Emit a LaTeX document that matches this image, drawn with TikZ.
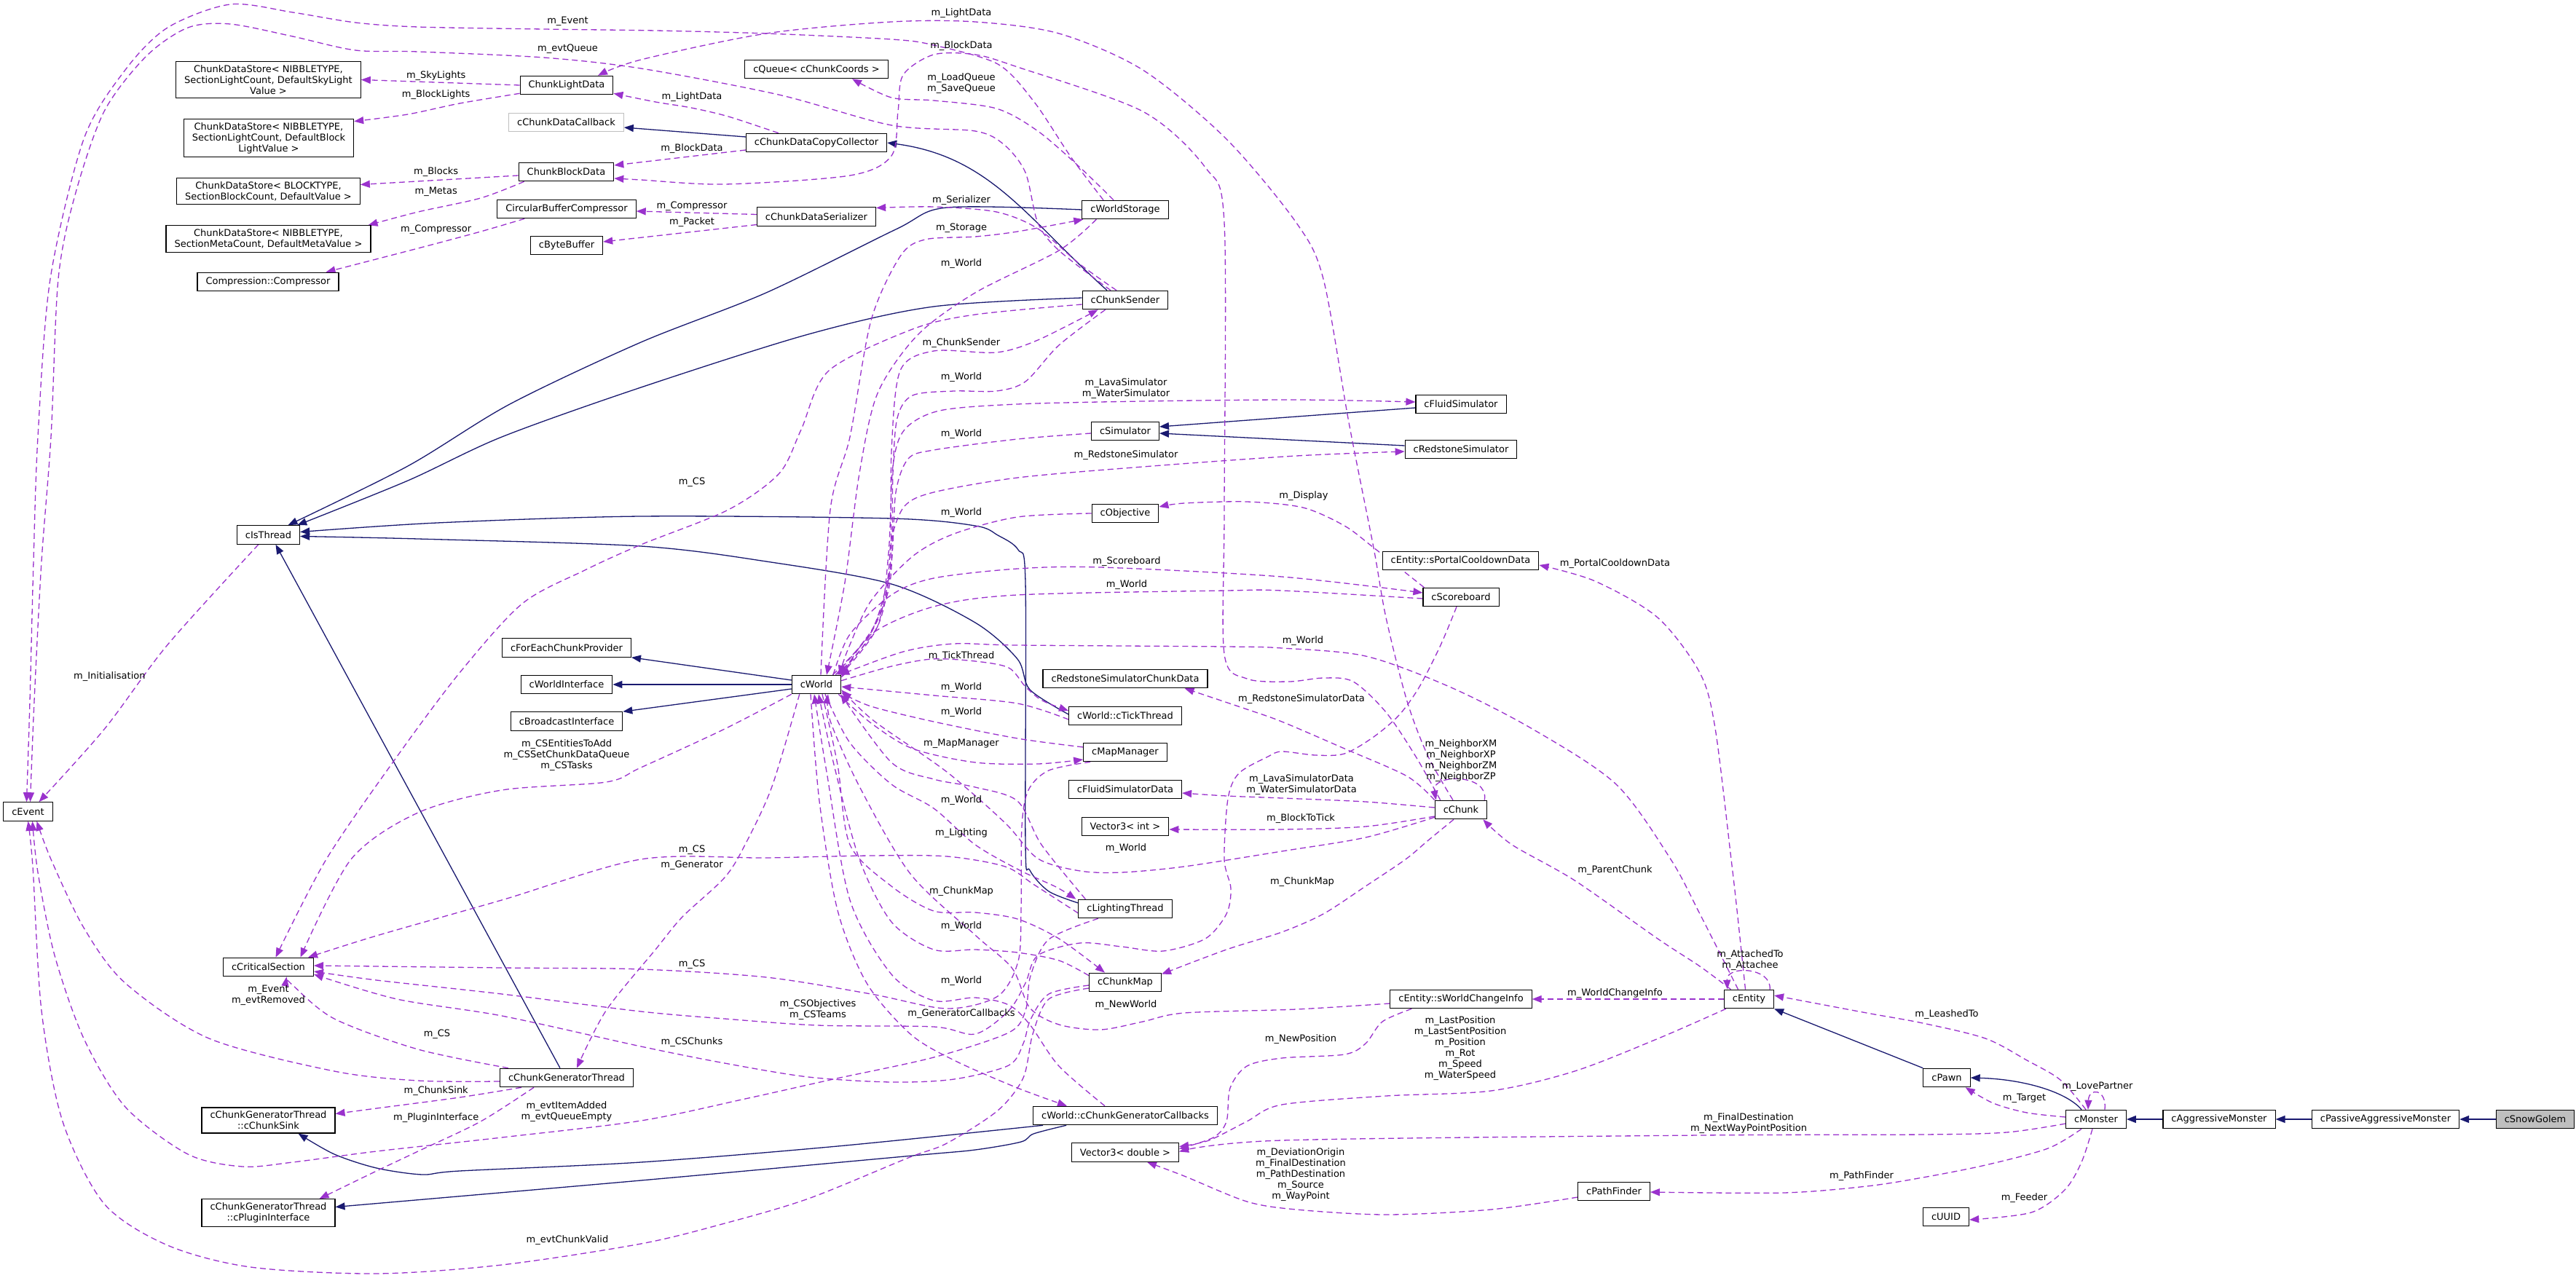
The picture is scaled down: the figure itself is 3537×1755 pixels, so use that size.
\documentclass[tikz,border=0pt]{standalone}
\usepackage{fontspec}
\setmainfont{DejaVu Sans}
\usetikzlibrary{arrows.meta,calc}
\definecolor{inhcol}{HTML}{191970}
\definecolor{usecol}{HTML}{9A32CD}
\definecolor{grayb}{HTML}{BFBFBF}
\pgfdeclarelayer{bglayer}
\pgfdeclarelayer{edgelayer}
\pgfsetlayers{bglayer,edgelayer,main}
\begin{document}
\begin{tikzpicture}[x=1pt,y=-1pt,
  box/.style={draw=black,line width=1.1pt,fill=white,inner xsep=11.5pt,inner ysep=5pt,minimum height=25.5pt,align=center,font=\fontsize{13}{15}\selectfont},
  lbl/.style={inner sep=0pt,align=center,font=\fontsize{13}{15}\selectfont},
  inh/.style={draw=inhcol,line width=1.3pt,-{Triangle[length=13pt,width=10pt]}},
  usg/.style={draw=usecol,line width=1.3pt,dash pattern=on 8pt off 5pt,-{Triangle[length=13pt,width=10pt]}}]
\begin{pgfonlayer}{bglayer}
\fill[white] (0,0) rectangle (3537,1755);
\end{pgfonlayer}
\useasboundingbox (0,0) rectangle (3537,1755);

% ---------------- nodes ----------------
\node[box] (sky) at (368.5,109.5) {ChunkDataStore< NIBBLETYPE,\\SectionLightCount, DefaultSkyLight\\Value >};
\node[box] (blight) at (369,189.5) {ChunkDataStore< NIBBLETYPE,\\SectionLightCount, DefaultBlock\\LightValue >};
\node[box] (cdsb) at (368.5,262.5) {ChunkDataStore< BLOCKTYPE,\\SectionBlockCount, DefaultValue >};
\node[box] (cdsm) at (368.5,328) {ChunkDataStore< NIBBLETYPE,\\SectionMetaCount, DefaultMetaValue >};
\node[box] (comp) at (368,387) {Compression::Compressor};
\node[box] (cld) at (778,117) {ChunkLightData};
\node[box,draw=grayb] (cdcb) at (777.5,168) {cChunkDataCallback};
\node[box] (cbd) at (777.5,236) {ChunkBlockData};
\node[box] (cbc) at (778,287) {CircularBufferCompressor};
\node[box] (cbb) at (778,337) {cByteBuffer};
\node[box] (queue) at (1121,95) {cQueue< cChunkCoords >};
\node[box] (cdcc) at (1121,196) {cChunkDataCopyCollector};
\node[box] (cdser) at (1121,297.5) {cChunkDataSerializer};
\node[box] (wstor) at (1545,288) {cWorldStorage};
\node[box] (csend) at (1545,412) {cChunkSender};
\node[box] (csim) at (1545,592) {cSimulator};
\node[box] (cfluid) at (2006,555) {cFluidSimulator};
\node[box] (credsim) at (2006,617) {cRedstoneSimulator};
\node[box] (isth) at (368.5,734.5) {cIsThread};
\node[box] (event) at (38.5,1114.5) {cEvent};
\node[box] (fecp) at (778,889.5) {cForEachChunkProvider};
\node[box] (wint) at (778,940) {cWorldInterface};
\node[box] (bint) at (778,990.5) {cBroadcastInterface};
\node[box] (world) at (1121,940) {cWorld};
\node[box] (obj) at (1545,705) {cObjective};
\node[box] (rscd) at (1545,932) {cRedstoneSimulatorChunkData};
\node[box] (tick) at (1545,983) {cWorld::cTickThread};
\node[box] (mapm) at (1545,1033) {cMapManager};
\node[box] (fsd) at (1545,1084) {cFluidSimulatorData};
\node[box] (v3i) at (1545,1135) {Vector3< int >};
\node[box] (spcd) at (2005.5,770) {cEntity::sPortalCooldownData};
\node[box] (score) at (2006,820) {cScoreboard};
\node[box] (chunk) at (2006,1112) {cChunk};
\node[box] (crit) at (368.5,1328) {cCriticalSection};
\node[box] (cgt) at (778,1480) {cChunkGeneratorThread};
\node[box] (sink) at (368.5,1538.5) {cChunkGeneratorThread\\::cChunkSink};
\node[box] (plug) at (368.5,1665.5) {cChunkGeneratorThread\\::cPluginInterface};
\node[box] (light) at (1545,1248) {cLightingThread};
\node[box] (cmap) at (1545,1349) {cChunkMap};
\node[box] (cgc) at (1545,1532) {cWorld::cChunkGeneratorCallbacks};
\node[box] (v3d) at (1545,1582.5) {Vector3< double >};
\node[box] (swci) at (2006,1372) {cEntity::sWorldChangeInfo};
\node[box] (entity) at (2401.5,1372) {cEntity};
\node[box] (pathf) at (2216,1636) {cPathFinder};
\node[box] (pawn) at (2673,1480) {cPawn};
\node[box] (uuid) at (2672,1671) {cUUID};
\node[box] (monster) at (2878,1537) {cMonster};
\node[box] (aggr) at (3047,1537) {cAggressiveMonster};
\node[box] (paggr) at (3275.5,1537) {cPassiveAggressiveMonster};
\node[box,fill=grayb] (golem) at (3481,1537) {cSnowGolem};

% ---------------- edges ----------------
\begin{pgfonlayer}{edgelayer}
% inheritance
\draw[inh] (golem.west) -- (paggr.east);
\draw[inh] (paggr.west) -- (aggr.east);
\draw[inh] (aggr.west) -- (monster.east);
\draw[inh] ($(monster.north)+(-20,0)$) .. controls (2838,1500) and (2780,1482) .. (pawn.east);
\draw[inh] (pawn.north west) -- (entity.south east);
\draw[inh] ($(world.west)+(0,-6)$) -- (fecp.south east);
\draw[inh] (world.west) -- (wint.east);
\draw[inh] ($(world.west)+(0,6)$) -- (bint.north east);
\draw[inh] ($(cfluid.west)+(0,5)$) -- ($(csim.east)+(0,-6)$);
\draw[inh] ($(credsim.west)+(0,-5)$) -- ($(csim.east)+(0,3)$);
\draw[inh] ($(cdcc.west)+(0,-8)$) -- ($(cdcb.east)+(0,7)$);
\draw[inh] ($(csend.north)+(-25,0)$) .. controls (1410,300) and (1360,215) .. (cdcc.east);
\draw[inh] plot[smooth,tension=0.5] coordinates {(wstor.west) (1300,285) (1230,315) (1052,402) (880,470) (700,555) (560,640) ($(isth.north)+(27,0)$)};
\draw[inh] plot[smooth,tension=0.5] coordinates {($(csend.west)+(0,-3)$) (1282,421) (1110,459) (880,532) (689,600) (560,660) ($(isth.north east)+(-4,0)$)};
\draw[inh] plot[smooth,tension=0.5] coordinates {($(tick.west)+(0,-2)$) (1414,947) (1397,905) (1339,855) (1224,802) (1052,771) (880,750) (574,740) ($(isth.east)+(0,2)$)};
\draw[inh] plot[smooth,tension=0.5] coordinates {($(light.west)+(0,-8)$) (1440,1224) (1414,1195) (1408,1160) (1408,800) (1398,755) (1370,735) (1339,722) (1224,712) (880,709) (600,718) ($(isth.east)+(0,-4)$)};
\draw[inh] ($(cgt.north)+(-9,0)$) -- ($(isth.south)+(10,0)$);
\draw[inh] plot[smooth,tension=0.5] coordinates {($(cgc.south west)+(14,0)$) (1150,1574) (880,1596) (631,1608) (580,1613) (517,1604) (459,1585) ($(sink.south)+(41,0)$)};
\draw[inh] plot[smooth,tension=0.5] coordinates {($(cgc.south west)+(46,0)$) (1419,1557) (1402,1568) (1339,1579) (1253,1587) (880,1621) ($(plug.east)+(0,-8)$)};

% usage
\draw[usg] plot[smooth,tension=0.5] coordinates {($(wstor.north)+(-30,0)$) (1470,215) (1420,140) (1370,88) (1282,62) (1224,54) (1052,46) (900,42) (746,40) (574,37) (488,31) (402,17) (316,6) (230,38) (172,96) (115,191) (69,383) (52,600) (46,771) (41,963) ($(event.north)+(-2,0)$)};
\draw[usg] plot[smooth,tension=0.5] coordinates {($(csend.north)+(-20,0)$) (1454,344) (1425,306) (1408,237) (1379,199) (1339,180) (1224,172) (1069,130) (880,94) (746,79) (574,71) (488,69) (402,50) (316,33) (258,38) (201,77) (143,153) (103,268) (80,383) (70,600) (57,771) (47,963) ($(event.north)+(3,0)$)};
\draw[usg] plot[smooth,tension=0.5] coordinates {($(isth.south west)+(30,0)$) (229.6,886) (143.5,1001) ($(event.north)+(15,0)$)};
\draw[usg] (cld.west) -- (sky.east);
\draw[usg] plot[smooth,tension=0.5] coordinates {($(cld.south west)+(0,-2)$) (631,142) (560,157) ($(blight.north east)+(0,4)$)};
\draw[usg] ($(cbd.west)+(0,5)$) -- ($(cdsb.east)+(0,-9)$);
\draw[usg] plot[smooth,tension=0.5] coordinates {($(cbd.south west)+(8,0)$) (660,272) (574,291) ($(cdsm.north east)+(-4,0)$)};
\draw[usg] plot[smooth,tension=0.5] coordinates {($(cbc.south west)+(38,0)$) (660,318) (574,341) ($(comp.north east)+(-18,0)$)};
\draw[usg] ($(cdser.west)+(0,-3)$) -- ($(cbc.east)+(0,3)$);
\draw[usg] ($(cdser.west)+(0,11)$) -- ($(cbb.east)+(0,-5)$);
\draw[usg] plot[smooth,tension=0.5] coordinates {($(cdcc.north west)+(45,0)$) (1000,160) (949,148) (900,140) ($(cld.south east)+(0,-2)$)};
\draw[usg] ($(cdcc.west)+(0,10)$) -- ($(cbd.east)+(0,-9)$);
\draw[usg] plot[smooth,tension=0.5] coordinates {($(chunk.north)+(-11,0)$) (1961,1039) (1932,963) (1903,848) (1886,752) (1852,580) (1817,383) (1780,306) (1684,191) (1569,96) (1454,46) (1339,30) (1224,30) (1052,46) (880,82) ($(cld.north)+(43,0)$)};
\draw[usg] plot[smooth,tension=0.5] coordinates {($(chunk.north west)+(8,0)$) (1944,1039) (1903,978) (1858,936) (1817,931) (1770,936) (1712,932) (1681,898) (1681,700) (1681,306) (1655,230) (1569,153) (1397,92) (1339,75) (1282,75) (1240,103) (1233,153) (1224,214) (1167,241) (995,253) (880,247) ($(cbd.east)+(0,9)$)};
\draw[usg] plot[smooth,tension=0.5] coordinates {($(wstor.north)+(-16,0)$) (1483,230) (1425,180) (1368,149) (1282,138) (1224,134) ($(queue.south)+(49,0)$)};
\draw[usg] plot[smooth,tension=0.5] coordinates {($(csend.north)+(-12,0)$) (1483,363) (1425,314) (1368,291) (1282,284) ($(cdser.east)+(0,-12)$)};
\draw[usg] plot[smooth,tension=0.5] coordinates {($(world.north)+(6,0)$) (1140,700) (1167,600) (1196,440) (1236,352) (1270,329) (1339,325) (1397,318) ($(wstor.south west)+(2,0)$)};
\draw[usg] plot[smooth,tension=0.5] coordinates {($(wstor.south west)+(20,0)$) (1454,344) (1339,402) (1260,460) (1205,540) (1180,650) (1160,800) ($(world.north)+(14,0)$)};
\draw[usg] plot[smooth,tension=0.5] coordinates {($(world.north east)+(-8,0)$) (1200,860) (1222,780) (1224,620) (1236,509) (1282,482) (1368,484) (1425,467) ($(csend.south west)+(22,0)$)};
\draw[usg] plot[smooth,tension=0.5] coordinates {($(csend.south west)+(32,0)$) (1454,474) (1408,524) (1368,537) (1310,537) (1253,543) (1232,574) (1226,650) (1222,800) (1190,880) ($(world.north east)+(-4,0)$)};
\draw[usg] plot[smooth,tension=0.5] coordinates {($(world.north east)+(-1,0)$) (1205,860) (1220,760) (1226,640) (1242,590) (1290,564) (1397,555) (1569,551) (1780,549) ($(cfluid.west)+(0,-3)$)};
\draw[usg] plot[smooth,tension=0.5] coordinates {($(world.north east)+(-12,0)$) (1195,870) (1218,800) (1224,740) (1242,695) (1282,676) (1397,656) (1569,641) (1780,626) ($(credsim.west)+(0,3)$)};
\draw[usg] plot[smooth,tension=0.5] coordinates {($(csim.west)+(0,3)$) (1397,603) (1282,618) (1247,630) (1230,676) (1224,771) (1205,860) ($(world.north east)+(-6,0)$)};
\draw[usg] plot[smooth,tension=0.5] coordinates {(obj.west) (1397,710) (1310,733) (1253,764) (1196,825) (1165,890) ($(world.north east)+(-3,0)$)};
\draw[usg] plot[smooth,tension=0.5] coordinates {($(score.north west)+(2,0)$) (1886,752) (1846,722) (1789,697) (1712,689) (1626,691) ($(obj.east)+(0,-9)$)};
\draw[usg] plot[smooth,tension=0.5] coordinates {($(world.north)+(23,0)$) (1167,871) (1224,817) (1282,794) (1397,781) (1511,779) (1760,792) ($(score.west)+(0,-6)$)};
\draw[usg] plot[smooth,tension=0.5] coordinates {($(score.west)+(0,2)$) (1760,811) (1684,811) (1397,817) (1282,833) (1196,871) ($(world.north east)+(0,4)$)};
\draw[usg] plot[smooth,tension=0.5] coordinates {($(entity.north)+(-15,0)$) (2334,1255) (2294,1180) (2219,1077) (2104,1001) (1990,943) (1875,901) (1760,890) (1684,888) (1397,886) (1310,884) (1240,895) ($(world.north east)+(-2,0)$)};
\draw[usg] plot[smooth,tension=0.5] coordinates {($(world.north east)+(0,8)$) (1224,915) (1280,905) (1339,908) (1385,917) (1408,943) (1431,962) ($(tick.west)+(0,-7)$)};
\draw[usg] plot[smooth,tension=0.5] coordinates {($(tick.west)+(0,5)$) (1397,966) (1282,955) ($(world.east)+(0,3)$)};
\draw[usg] plot[smooth,tension=0.5] coordinates {($(mapm.west)+(0,-7)$) (1397,1014) (1282,991) (1196,970) ($(world.south east)+(0,-2)$)};
\draw[usg] plot[smooth,tension=0.5] coordinates {($(world.south east)+(-4,0)$) (1196,993) (1253,1028) (1339,1047) (1425,1049) ($(mapm.west)+(0,10)$)};
\draw[usg] plot[smooth,tension=0.5] coordinates {($(world.south)+(12,0)$) (1167,1020) (1224,1077) (1282,1110) (1339,1160) (1400,1195) (1450,1218) ($(light.north west)+(-3,0)$)};
\draw[usg] plot[smooth,tension=0.5] coordinates {($(light.north west)+(10,0)$) (1430,1160) (1397,1100) (1339,1081) (1282,1070) (1224,1047) ($(world.south east)+(-1,0)$)};
\draw[usg] plot[smooth,tension=0.5] coordinates {($(world.south)+(8,0)$) (1150,1050) (1167,1160) (1224,1217) (1282,1251) (1339,1253) (1397,1262) (1454,1289) ($(cmap.north)+(-28,0)$)};
\draw[usg] plot[smooth,tension=0.5] coordinates {($(cmap.north west)+(0,4)$) (1454,1319) (1397,1308) (1339,1304) (1282,1304) (1224,1266) (1180,1180) (1145,1050) ($(world.south)+(3,0)$)};
\draw[usg] plot[smooth,tension=0.5] coordinates {($(cgc.north)+(-28,0)$) (1454,1464) (1414,1407) (1385,1380) (1339,1370) (1282,1374) (1224,1338) (1167,1236) (1135,1060) ($(world.south)+(-3,0)$)};
\draw[usg] plot[smooth,tension=0.5] coordinates {($(world.south)+(-8,0)$) (1125,1100) (1150,1250) (1190,1350) (1250,1420) (1310,1456) (1397,1494) ($(cgc.north)+(-80,0)$)};
\draw[usg] plot[smooth,tension=0.5] coordinates {($(world.south west)+(11,0)$) (1060,1080) (1023,1160) (995,1205) (937,1259) (900,1304) (832,1388) ($(cgt.north)+(14,0)$)};
\draw[usg] plot[smooth,tension=0.5] coordinates {(world.south west) (995,1001) (880,1054) (832,1074) (689,1085) (574,1116) (482,1180) ($(crit.north)+(44,0)$)};
\draw[usg] plot[smooth,tension=0.5] coordinates {($(csend.west)+(0,6)$) (1339,432) (1253,452) (1138,509) (1100,590) (1070,650) (1000,700) (880,748) (803,783) (717,829) (631,924) (545,1039) (448,1180) ($(crit.north)+(10,0)$)};
\draw[usg] plot[smooth,tension=0.5] coordinates {($(light.west)+(0,6)$) (1420,1215) (1380,1190) (1300,1176) (1196,1175) (1052,1178) (880,1180) (689,1236) (517,1285) ($(crit.north east)+(-8,0)$)};
\draw[usg] plot[smooth,tension=0.5] coordinates {($(mapm.south west)+(10,0)$) (1440,1058) (1412,1085) (1403,1135) (1402,1250) (1398,1320) (1370,1368) (1300,1385) (1196,1365) (1052,1342) (880,1331) (689,1329) ($(crit.east)+(0,-2)$)};
\draw[usg] plot[smooth,tension=0.5] coordinates {($(cmap.west)+(0,4)$) (1440,1365) (1415,1400) (1405,1433) (1385,1463) (1310,1482) (1224,1486) (1110,1479) (995,1460) (880,1437) (689,1395) (545,1372) ($(crit.east)+(0,10)$)};
\draw[usg] plot[smooth,tension=0.5] coordinates {($(score.south)+(-6,0)$) (1978,886) (1949,943) (1921,982) (1886,1012) (1846,1035) (1806,1037) (1760,1032) (1741,1039) (1701,1062) (1686,1097) (1681,1180) (1690,1220) (1684,1255) (1655,1289) (1597,1306) (1540,1300) (1483,1295) (1425,1312) (1408,1350) (1385,1388) (1339,1420) (1282,1410) (1123,1408) (995,1399) (880,1389) (689,1365) (517,1346) ($(crit.east)+(0,6)$)};
\draw[usg] plot[smooth,tension=0.5] coordinates {($(cgt.north west)+(12,0)$) (574,1441) (459,1399) (402,1353) ($(crit.south)+(25,0)$)};
\draw[usg] plot[smooth,tension=0.5] coordinates {($(cgt.west)+(0,5)$) (574,1484) (459,1471) (287,1426) (172,1350) (115,1274) (70,1180) ($(event.south)+(12,0)$)};
\draw[usg] plot[smooth,tension=0.5] coordinates {($(light.south)+(-37,0)$) (1440,1290) (1415,1340) (1408,1388) (1385,1418) (1282,1452) (1144,1482) (1023,1509) (880,1539) (689,1562) (517,1581) (402,1596) (333,1602) (258,1585) (172,1520) (115,1426) (75,1312) (52,1198) ($(event.south)+(6,0)$)};
\draw[usg] plot[smooth,tension=0.5] coordinates {($(cmap.west)+(0,8)$) (1440,1372) (1418,1420) (1405,1480) (1370,1525) (1300,1570) (1247,1590) (1110,1646) (995,1680) (880,1708) (689,1737) (517,1749) (344,1740) (230,1710) (143,1653) (86,1540) (57,1388) (45,1190) (event.south)};
\draw[usg] plot[smooth,tension=0.5] coordinates {(chunk.north west) (1932,1066) (1846,1028) (1760,991) (1712,974) ($(rscd.south east)+(-32,0)$)};
\draw[usg] plot[smooth,tension=0.5] coordinates {($(chunk.west)+(0,-3)$) (1875,1101) (1760,1096) (1684,1093) ($(fsd.east)+(0,5)$)};
\draw[usg] plot[smooth,tension=0.5] coordinates {($(chunk.west)+(0,9)$) (1875,1135) (1760,1139) ($(v3i.east)+(0,4)$)};
\draw[usg] plot[smooth,tension=0.5] coordinates {($(chunk.south west)+(0,-3)$) (1875,1150) (1760,1169) (1626,1190) (1540,1198) (1483,1196) (1425,1179) (1380,1130) (1300,1060) (1200,990) ($(world.south east)+(0,-6)$)};
\draw[usg] plot[smooth,tension=0.5] coordinates {($(chunk.south)+(-10,0)$) (1961,1154) (1930,1180) (1875,1217) (1817,1255) (1760,1280) (1684,1304) ($(cmap.north east)+(0,2)$)};
\draw[usg] ($(chunk.north east)+(-4,0)$) .. controls (2045,1062) and (1965,1062) .. ($(chunk.north west)+(2,0)$);
\draw[usg] plot[smooth,tension=0.5] coordinates {($(entity.north)+(-25,0)$) (2334,1327) (2276,1289) (2162,1209) (2076,1160) ($(chunk.south east)+(-6,0)$)};
\draw[usg] plot[smooth,tension=0.5] coordinates {($(entity.north)+(-5,0)$) (2385,1250) (2377,1180) (2355,1000) (2334,924) (2276,848) (2190,798) ($(spcd.east)+(0,6)$)};
\draw[usg] ($(entity.north east)+(-6,0)$) .. controls (2433,1328) and (2370,1325) .. ($(entity.north west)+(5,0)$);
\draw[usg] (entity.west) -- (swci.east);
\draw[usg] plot[smooth,tension=0.5] coordinates {($(entity.south west)+(3,0)$) (2277,1426) (2162,1471) (2047,1498) (1903,1505) (1760,1517) (1712,1540) (1660,1566) ($(v3d.east)+(0,-8)$)};
\draw[usg] plot[smooth,tension=0.5] coordinates {($(swci.south west)+(30,0)$) (1898,1403) (1875,1433) (1846,1448) (1760,1453) (1712,1464) (1689,1494) (1684,1540) (1666,1562) ($(v3d.east)+(0,-5)$)};
\draw[usg] plot[smooth,tension=0.5] coordinates {($(monster.west)+(0,6)$) (2755,1555) (2640,1558) (2334,1559) (1760,1566) ($(v3d.east)+(0,-1)$)};
\draw[usg] plot[smooth,tension=0.5] coordinates {($(pathf.west)+(0,8)$) (2047,1661) (1903,1668) (1780,1661) (1712,1650) (1626,1615) ($(v3d.south)+(30,0)$)};
\draw[usg] plot[smooth,tension=0.5] coordinates {($(monster.south)+(-20,0)$) (2812,1577) (2726,1600) (2640,1617) (2563,1629) (2449,1638) ($(pathf.east)+(0,1)$)};
\draw[usg] plot[smooth,tension=0.5] coordinates {($(monster.south)+(-5,0)$) (2858,1596) (2835,1634) (2789,1665) ($(uuid.east)+(0,4)$)};
\draw[usg] plot[smooth,tension=0.5] coordinates {($(monster.west)+(0,-3)$) (2783,1528) (2737,1515) ($(pawn.south east)+(-7,0)$)};
\draw[usg] ($(monster.north)+(12,0)$) .. controls (2893,1495) and (2868,1493) .. ($(monster.north)+(-11,0)$);
\draw[usg] plot[smooth,tension=0.5] coordinates {($(monster.north)+(-14,0)$) (2829,1483) (2783,1456) (2726,1426) (2640,1405) (2563,1391) ($(entity.east)+(0,-5)$)};
\draw[usg] plot[smooth,tension=0.5] coordinates {($(cgt.south west)+(30,0)$) (631,1507) (517,1522) ($(sink.east)+(0,-9)$)};
\draw[usg] plot[smooth,tension=0.5] coordinates {($(cgt.south west)+(47,0)$) (660,1540) (574,1581) (517,1608) ($(plug.north east)+(-22,0)$)};
\draw[usg] plot[smooth,tension=0.5] coordinates {($(swci.west)+(0,6)$) (1780,1386) (1626,1391) (1569,1403) (1511,1414) (1454,1407) (1414,1384) (1390,1330) (1340,1285) (1250,1200) (1180,1080) (1140,990) ($(world.south)+(16,0)$)};
\end{pgfonlayer}

% ---------------- labels ----------------
\node[lbl] (t1) at (779.5,29) {m\_Event};
\node[lbl] (t2) at (779.5,67) {m\_evtQueue};
\node[lbl] (t3) at (598.7,104.5) {m\_SkyLights};
\node[lbl] (t4) at (598.7,130.5) {m\_BlockLights};
\node[lbl] (t5) at (598.7,235.7) {m\_Blocks};
\node[lbl] (t6) at (598.7,263.7) {m\_Metas};
\node[lbl] (t7) at (598.7,315) {m\_Compressor};
\node[lbl] (t8) at (1320,18.4) {m\_LightData};
\node[lbl] (t9) at (1320,63) {m\_BlockData};
\node[lbl] (t10) at (1320,115) {m\_LoadQueue\\m\_SaveQueue};
\node[lbl] (t11) at (950,133) {m\_LightData};
\node[lbl] (t12) at (950,203.6) {m\_BlockData};
\node[lbl] (t13) at (950,282.8) {m\_Compressor};
\node[lbl] (t14) at (950,304.6) {m\_Packet};
\node[lbl] (t15) at (1320,275.5) {m\_Serializer};
\node[lbl] (t16) at (1320,313) {m\_Storage};
\node[lbl] (t17) at (1320,361.6) {m\_World};
\node[lbl] (t18) at (1320,470.7) {m\_ChunkSender};
\node[lbl] (t19) at (1320,518.5) {m\_World};
\node[lbl] (t20) at (1546,533.6) {m\_LavaSimulator\\m\_WaterSimulator};
\node[lbl] (t21) at (1320,596) {m\_World};
\node[lbl] (t22) at (1546,624.8) {m\_RedstoneSimulator};
\node[lbl] (t23) at (1320,704.4) {m\_World};
\node[lbl] (t24) at (1790,680.6) {m\_Display};
\node[lbl] (t25) at (1547,771) {m\_Scoreboard};
\node[lbl] (t26) at (1547,803) {m\_World};
\node[lbl] (t27) at (1789,880.4) {m\_World};
\node[lbl] (t28) at (1320,900.7) {m\_TickThread};
\node[lbl] (t29) at (1320,944.3) {m\_World};
\node[lbl] (t30) at (1320,978) {m\_World};
\node[lbl] (t31) at (1320,1020.8) {m\_MapManager};
\node[lbl] (t32) at (1787,960) {m\_RedstoneSimulatorData};
\node[lbl] (t33) at (1787,1078) {m\_LavaSimulatorData\\m\_WaterSimulatorData};
\node[lbl] (t34) at (1786,1124) {m\_BlockToTick};
\node[lbl] (t35) at (1320,1099) {m\_World};
\node[lbl] (t36) at (1320,1144.5) {m\_Lighting};
\node[lbl] (t37) at (950,1167.4) {m\_CS};
\node[lbl] (t38) at (1546,1165.5) {m\_World};
\node[lbl] (t39) at (2217.5,774.4) {m\_PortalCooldownData};
\node[lbl] (t40) at (2006,1045) {m\_NeighborXM\\m\_NeighborXP\\m\_NeighborZM\\m\_NeighborZP};
\node[lbl] (t41) at (368.5,1367) {m\_Event\\m\_evtRemoved};
\node[lbl] (t42) at (600,1420) {m\_CS};
\node[lbl] (t43) at (598.7,1498.5) {m\_ChunkSink};
\node[lbl] (t44) at (598.7,1535) {m\_PluginInterface};
\node[lbl] (t45) at (778,1527) {m\_evtItemAdded\\m\_evtQueueEmpty};
\node[lbl] (t46) at (779,1703.5) {m\_evtChunkValid};
\node[lbl] (t47) at (950,1188.5) {m\_Generator};
\node[lbl] (t48) at (1320,1223.8) {m\_ChunkMap};
\node[lbl] (t49) at (1320,1271.6) {m\_World};
\node[lbl] (t50) at (950,1324) {m\_CS};
\node[lbl] (t51) at (1320,1347) {m\_World};
\node[lbl] (t52) at (1123,1387) {m\_CSObjectives\\m\_CSTeams};
\node[lbl] (t53) at (1320,1392) {m\_GeneratorCallbacks};
\node[lbl] (t54) at (950,1431.3) {m\_CSChunks};
\node[lbl] (t55) at (1546,1380) {m\_NewWorld};
\node[lbl] (t56) at (2217.5,1195.3) {m\_ParentChunk};
\node[lbl] (t57) at (1788,1211) {m\_ChunkMap};
\node[lbl] (t58) at (2403,1319) {m\_AttachedTo\\m\_Attachee};
\node[lbl] (t59) at (2217.5,1363.8) {m\_WorldChangeInfo};
\node[lbl] (t60) at (1786,1427) {m\_NewPosition};
\node[lbl] (t61) at (2005,1440) {m\_LastPosition\\m\_LastSentPosition\\m\_Position\\m\_Rot\\m\_Speed\\m\_WaterSpeed};
\node[lbl] (t62) at (2401,1543) {m\_FinalDestination\\m\_NextWayPointPosition};
\node[lbl] (t63) at (2556,1615.4) {m\_PathFinder};
\node[lbl] (t64) at (1786,1613) {m\_DeviationOrigin\\m\_FinalDestination\\m\_PathDestination\\m\_Source\\m\_WayPoint};
\node[lbl] (t65) at (2673,1393) {m\_LeashedTo};
\node[lbl] (t66) at (2880,1492) {m\_LovePartner};
\node[lbl] (t67) at (2779.5,1508) {m\_Target};
\node[lbl] (t68) at (2779.5,1645) {m\_Feeder};
\node[lbl] (t69) at (150.4,929) {m\_Initialisation};
\node[lbl] (t70) at (778,1037) {m\_CSEntitiesToAdd\\m\_CSSetChunkDataQueue\\m\_CSTasks};
\node[lbl] (t71) at (950,662) {m\_CS};
\end{tikzpicture}
\end{document}
